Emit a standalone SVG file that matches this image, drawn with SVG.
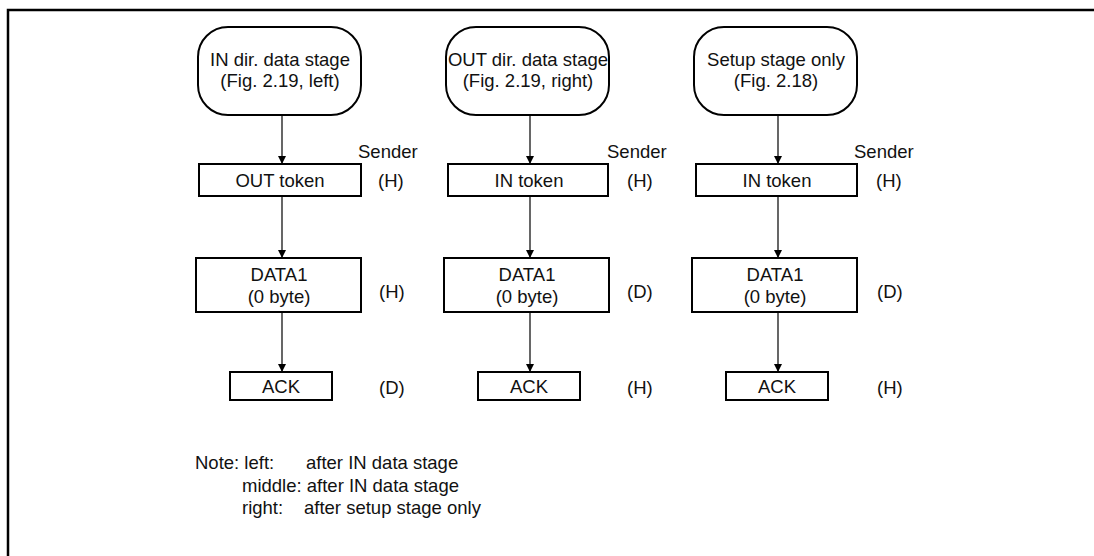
<svg xmlns="http://www.w3.org/2000/svg" width="1094" height="556" viewBox="0 0 1094 556">
  <style>
    .frame { fill: none; stroke: #000; stroke-width: 2.5; }
    .box { fill: #fff; stroke: #000; stroke-width: 2; }
    .link { fill: none; stroke: #000; stroke-width: 1.2; marker-end: url(#arrow); }
    text { font-family: "Liberation Sans", Arial, Helvetica, sans-serif; font-size: 18.5px; fill: #111; }
    .c { text-anchor: middle; }
  </style>
  <defs>
    <marker id="arrow" viewBox="0 0 8 12" refX="8" refY="6" markerWidth="8" markerHeight="12" markerUnits="userSpaceOnUse" orient="auto">
      <path d="M0,2 L8,6 L0,10 Z" fill="#000"/>
    </marker>
  </defs>

  <rect width="1094" height="556" fill="#fff"/>
  <!-- frame: top and left rule -->
  <path class="frame" d="M8,556 V10 H1094"/>

  <!-- connectors -->
  <g id="connectors">
    <line class="link" x1="282" y1="115" x2="282" y2="164"/>
    <line class="link" x1="282" y1="196" x2="282" y2="258"/>
    <line class="link" x1="282" y1="312" x2="282" y2="372"/>
    <line class="link" x1="530" y1="115" x2="530" y2="164"/>
    <line class="link" x1="530" y1="196" x2="530" y2="258"/>
    <line class="link" x1="530" y1="312" x2="530" y2="372"/>
    <line class="link" x1="778" y1="115" x2="778" y2="164"/>
    <line class="link" x1="778" y1="196" x2="778" y2="258"/>
    <line class="link" x1="778" y1="312" x2="778" y2="372"/>
  </g>

  <!-- left column -->
  <g id="start-in">
    <rect class="box" x="198" y="27" width="163" height="88" rx="30" ry="30"/>
    <text class="c" x="280" y="66">IN dir. data stage</text>
    <text class="c" x="280" y="87">(Fig. 2.19, left)</text>
  </g>
  <g id="token-out">
    <rect class="box" x="199" y="164" width="162" height="32"/>
    <text class="c" x="280" y="187">OUT token</text>
  </g>
  <g id="data1-left">
    <rect class="box" x="196" y="258" width="165" height="54"/>
    <text class="c" x="279" y="281">DATA1</text>
    <text class="c" x="279" y="303">(0 byte)</text>
  </g>
  <g id="ack-left">
    <rect class="box" x="230" y="372" width="102" height="28"/>
    <text class="c" x="281" y="393">ACK</text>
  </g>

  <!-- middle column -->
  <g id="start-out">
    <rect class="box" x="446" y="27" width="163" height="88" rx="30" ry="30"/>
    <text class="c" x="528" y="66">OUT dir. data stage</text>
    <text class="c" x="528" y="87">(Fig. 2.19, right)</text>
  </g>
  <g id="token-in-mid">
    <rect class="box" x="448" y="164" width="160" height="32"/>
    <text class="c" x="529" y="187">IN token</text>
  </g>
  <g id="data1-mid">
    <rect class="box" x="444" y="258" width="165" height="54"/>
    <text class="c" x="527" y="281">DATA1</text>
    <text class="c" x="527" y="303">(0 byte)</text>
  </g>
  <g id="ack-mid">
    <rect class="box" x="478" y="372" width="102" height="28"/>
    <text class="c" x="529" y="393">ACK</text>
  </g>

  <!-- right column -->
  <g id="start-setup">
    <rect class="box" x="694" y="27" width="163" height="88" rx="30" ry="30"/>
    <text class="c" x="776" y="66">Setup stage only</text>
    <text class="c" x="776" y="87">(Fig. 2.18)</text>
  </g>
  <g id="token-in-right">
    <rect class="box" x="696" y="164" width="161" height="32"/>
    <text class="c" x="777" y="187">IN token</text>
  </g>
  <g id="data1-right">
    <rect class="box" x="692" y="258" width="165" height="54"/>
    <text class="c" x="775" y="281">DATA1</text>
    <text class="c" x="775" y="303">(0 byte)</text>
  </g>
  <g id="ack-right">
    <rect class="box" x="726" y="372" width="102" height="28"/>
    <text class="c" x="777" y="393">ACK</text>
  </g>

  <!-- sender labels -->
  <g id="sender-labels">
    <text x="358" y="158">Sender</text>
    <text x="378" y="187">(H)</text>
    <text x="379" y="298">(H)</text>
    <text x="379" y="394">(D)</text>

    <text x="607" y="158">Sender</text>
    <text x="627" y="187">(H)</text>
    <text x="627" y="298">(D)</text>
    <text x="627" y="394">(H)</text>

    <text x="854" y="158">Sender</text>
    <text x="876" y="187">(H)</text>
    <text x="877" y="298">(D)</text>
    <text x="877" y="394">(H)</text>
  </g>

  <!-- note -->
  <g id="note">
    <text x="195" y="469">Note: left:</text>
    <text x="306" y="469">after IN data stage</text>
    <text x="242" y="492">middle: after IN data stage</text>
    <text x="242" y="514">right:</text>
    <text x="304" y="514">after setup stage only</text>
  </g>
</svg>
